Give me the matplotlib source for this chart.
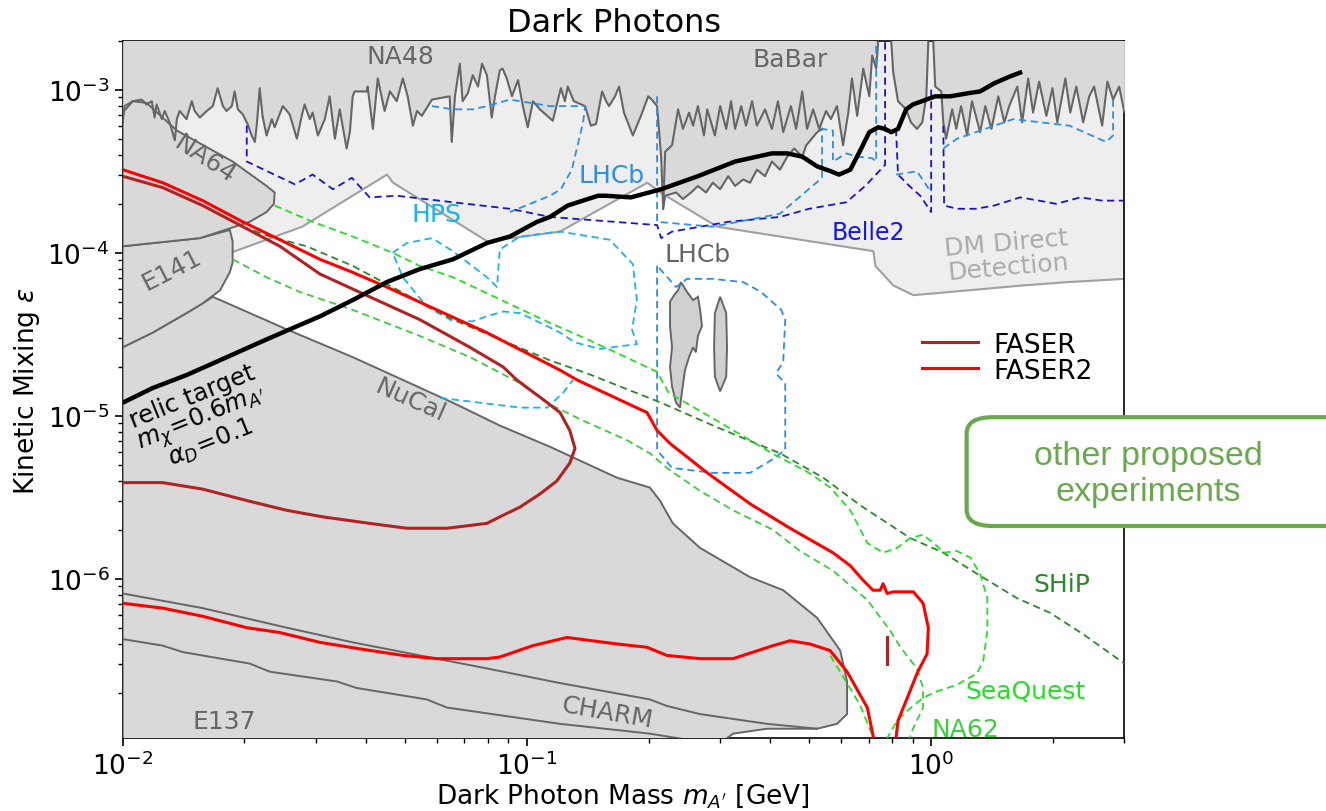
import numpy as np
import matplotlib.pyplot as plt
from matplotlib.lines import Line2D
from matplotlib.patches import FancyBboxPatch

light_edge = [(-2.000, -4.10), (-1.809, -4.05), (-1.722, -3.99), (-1.556, -3.84), (-1.346, -3.52),
              (-1.331, -3.57), (-1.098, -3.93), (-0.918, -3.87), (-0.861, -3.79), (-0.702, -3.57),
              (-0.670, -3.63), (-0.529, -3.84), (-0.143, -3.99), (-0.138, -4.08), (-0.094, -4.20),
              (-0.044, -4.26), (0.048, -4.24), (0.228, -4.20), (0.337, -4.18), (0.478, -4.16)]

babar_edge = [(-2.000, -3.20), (-1.995, -3.10), (-1.975, -3.07), (-1.953, -3.06), (-1.941, -3.09),
              (-1.928, -3.07), (-1.921, -3.17), (-1.916, -3.09), (-1.903, -3.18), (-1.896, -3.13),
              (-1.884, -3.20), (-1.871, -3.31), (-1.866, -3.18), (-1.859, -3.13), (-1.842, -3.18),
              (-1.829, -3.07), (-1.822, -3.13), (-1.809, -3.17), (-1.792, -3.13), (-1.777, -3.10),
              (-1.765, -2.99), (-1.752, -3.10), (-1.743, -3.13), (-1.730, -3.10), (-1.723, -3.01),
              (-1.715, -3.12), (-1.703, -3.15), (-1.691, -3.21), (-1.681, -3.28), (-1.673, -3.32),
              (-1.668, -3.21), (-1.661, -2.99), (-1.654, -3.16), (-1.644, -3.28), (-1.631, -3.18),
              (-1.624, -3.23), (-1.604, -3.10), (-1.587, -3.15), (-1.569, -3.30), (-1.557, -3.16),
              (-1.550, -3.09), (-1.537, -3.18), (-1.530, -3.14), (-1.517, -3.28), (-1.500, -3.18),
              (-1.488, -3.04), (-1.475, -3.30), (-1.463, -3.12), (-1.446, -3.36), (-1.438, -3.26),
              (-1.431, -3.04), (-1.426, -3.01), (-1.396, -3.01), (-1.394, -2.98), (-1.381, -3.24),
              (-1.369, -2.93), (-1.352, -3.13), (-1.339, -3.01), (-1.322, -3.07), (-1.307, -2.93),
              (-1.295, -3.04), (-1.282, -3.22), (-1.272, -3.13), (-1.260, -3.16), (-1.235, -3.06),
              (-1.191, -3.04), (-1.186, -3.32), (-1.178, -3.04), (-1.166, -2.84), (-1.159, -3.07),
              (-1.146, -3.02), (-1.134, -2.91), (-1.121, -2.98), (-1.111, -2.84), (-1.099, -2.91),
              (-1.087, -3.17), (-1.079, -3.04), (-1.067, -2.88), (-1.060, -2.87), (-1.050, -2.93),
              (-1.037, -3.04), (-1.022, -2.94), (-1.010, -3.10), (-0.998, -3.23), (-0.985, -3.07),
              (-0.968, -3.12), (-0.936, -3.19), (-0.916, -2.99), (-0.906, -3.07), (-0.899, -2.98),
              (-0.884, -3.07), (-0.856, -3.10), (-0.842, -3.22), (-0.829, -3.21), (-0.814, -3.01),
              (-0.804, -3.07), (-0.797, -3.10), (-0.782, -3.04), (-0.772, -2.98), (-0.760, -3.14),
              (-0.738, -3.28), (-0.718, -3.16), (-0.700, -3.04), (-0.691, -3.06), (-0.678, -3.10),
              (-0.668, -3.41), (-0.663, -3.73), (-0.658, -3.38), (-0.641, -3.34), (-0.626, -3.12),
              (-0.614, -3.24), (-0.599, -3.14), (-0.589, -3.22), (-0.577, -3.10), (-0.562, -3.28),
              (-0.554, -3.12), (-0.535, -3.28), (-0.522, -3.10), (-0.507, -3.24), (-0.495, -3.07),
              (-0.485, -3.24), (-0.470, -3.10), (-0.458, -3.22), (-0.443, -3.07), (-0.431, -3.22),
              (-0.411, -3.12), (-0.394, -3.24), (-0.379, -3.07), (-0.366, -3.26), (-0.347, -3.10),
              (-0.334, -3.24), (-0.319, -3.01), (-0.307, -3.24), (-0.292, -3.12), (-0.277, -3.24),
              (-0.260, -3.13), (-0.248, -3.18), (-0.233, -3.10), (-0.218, -3.34), (-0.205, -3.14),
              (-0.196, -2.93), (-0.183, -3.16), (-0.168, -2.87), (-0.153, -3.04), (-0.146, -2.79),
              (-0.136, -2.87), (-0.131, -2.70), (-0.129, -2.69), (-0.099, -2.69), (-0.094, -2.89),
              (-0.082, -3.07), (-0.062, -3.12), (-0.050, -3.20), (-0.035, -3.24), (-0.022, -3.20),
              (-0.012, -3.04), (-0.007, -2.70), (-0.002, -2.69), (0.005, -2.69), (0.010, -2.98),
              (0.025, -3.01), (0.030, -3.20), (0.037, -3.30), (0.052, -3.12), (0.062, -3.24),
              (0.074, -3.10), (0.089, -3.28), (0.101, -3.07), (0.121, -3.26), (0.134, -3.10),
              (0.149, -3.24), (0.166, -3.04), (0.181, -3.20), (0.193, -3.10), (0.213, -2.98),
              (0.225, -3.20), (0.240, -2.93), (0.252, -3.14), (0.267, -2.95), (0.285, -3.16),
              (0.300, -2.99), (0.312, -3.20), (0.332, -2.93), (0.344, -3.14), (0.359, -2.98),
              (0.376, -3.20), (0.391, -3.04), (0.403, -2.98), (0.423, -3.22), (0.436, -2.95),
              (0.450, -3.06), (0.465, -2.98), (0.478, -3.14)]

lhcb_prompt = [(-0.663, -3.73), (-0.658, -3.65), (-0.631, -3.63), (-0.614, -3.67), (-0.594, -3.63),
               (-0.577, -3.59), (-0.557, -3.63), (-0.540, -3.57), (-0.522, -3.61), (-0.502, -3.53),
               (-0.485, -3.59), (-0.465, -3.55), (-0.448, -3.57), (-0.431, -3.49), (-0.411, -3.53),
               (-0.394, -3.44), (-0.374, -3.49), (-0.356, -3.41), (-0.339, -3.36), (-0.319, -3.41),
               (-0.309, -3.34), (-0.282, -3.26), (-0.270, -3.24)]

na64 = [(-2.000, -3.14), (-1.975, -3.07), (-1.941, -3.08), (-1.866, -3.25), (-1.728, -3.44),
        (-1.644, -3.59), (-1.624, -3.63), (-1.626, -3.70), (-1.644, -3.75), (-1.686, -3.81),
        (-1.759, -3.87), (-1.809, -3.91), (-2.000, -3.96)]

e141 = [(-2.000, -3.96), (-1.809, -3.91), (-1.735, -3.86), (-1.728, -3.93), (-1.728, -4.06),
        (-1.735, -4.12), (-1.759, -4.23), (-1.802, -4.31), (-1.842, -4.37), (-1.884, -4.43),
        (-1.926, -4.49), (-2.000, -4.58)]

nucal = [(-2.000, -7.10), (-2.000, -4.58), (-1.926, -4.49), (-1.884, -4.43), (-1.842, -4.37),
         (-1.802, -4.31), (-1.777, -4.27), (-1.594, -4.47), (-1.431, -4.64), (-1.183, -4.92),
         (-1.067, -5.06), (-0.943, -5.19), (-0.777, -5.38), (-0.696, -5.44), (-0.671, -5.52),
         (-0.639, -5.66), (-0.572, -5.81), (-0.448, -5.99), (-0.366, -6.07), (-0.282, -6.24),
         (-0.225, -6.44), (-0.208, -6.63), (-0.208, -6.83), (-0.233, -6.89), (-0.282, -6.92),
         (-0.406, -6.92), (-0.490, -6.95), (-0.572, -7.10)]

charm_top = [(-2.000, -6.09), (-1.802, -6.18), (-1.594, -6.30), (-1.431, -6.39), (-1.265, -6.47),
             (-1.099, -6.55), (-0.918, -6.64), (-0.696, -6.74), (-0.654, -6.78), (-0.572, -6.83),
             (-0.406, -6.89), (-0.282, -6.92)]

charm_bottom = [(-2.000, -6.37), (-1.901, -6.41), (-1.851, -6.45), (-1.686, -6.52), (-1.636, -6.57),
                (-1.470, -6.63), (-1.421, -6.67), (-1.248, -6.74), (-1.198, -6.79), (-0.918, -6.89),
                (-0.696, -6.95), (-0.572, -7.00)]

lhcb_island1 = [(-0.619, -4.18), (-0.604, -4.24), (-0.589, -4.29), (-0.577, -4.27), (-0.572, -4.34),
                (-0.567, -4.45), (-0.577, -4.51), (-0.582, -4.61), (-0.589, -4.58), (-0.599, -4.64),
                (-0.609, -4.72), (-0.619, -4.90), (-0.621, -4.95), (-0.631, -4.92), (-0.641, -4.82),
                (-0.646, -4.70), (-0.641, -4.58), (-0.646, -4.45), (-0.646, -4.30), (-0.636, -4.26),
                (-0.626, -4.23)]

lhcb_island2 = [(-0.522, -4.27), (-0.507, -4.37), (-0.505, -4.58), (-0.507, -4.76), (-0.522, -4.85),
                (-0.535, -4.76), (-0.537, -4.58), (-0.535, -4.37)]

relic = [(-2.000, -4.92), (-1.926, -4.83), (-1.842, -4.75), (-1.760, -4.66), (-1.661, -4.55),
         (-1.587, -4.47), (-1.512, -4.39), (-1.431, -4.29), (-1.347, -4.18), (-1.265, -4.10),
         (-1.183, -4.04), (-1.099, -3.94), (-1.042, -3.90), (-0.975, -3.81), (-0.943, -3.78),
         (-0.899, -3.71), (-0.824, -3.65), (-0.804, -3.65), (-0.743, -3.66), (-0.668, -3.61),
         (-0.577, -3.53), (-0.485, -3.44), (-0.394, -3.39), (-0.356, -3.39), (-0.319, -3.41),
         (-0.282, -3.47), (-0.248, -3.50), (-0.228, -3.52), (-0.200, -3.49), (-0.173, -3.36),
         (-0.153, -3.26), (-0.131, -3.23), (-0.114, -3.24), (-0.099, -3.26), (-0.082, -3.24),
         (-0.062, -3.12), (-0.045, -3.09), (0.010, -3.04), (0.047, -3.04), (0.094, -3.02),
         (0.121, -3.01), (0.156, -2.96), (0.193, -2.92), (0.225, -2.89)]

faser = [(-2.000, -3.53), (-1.901, -3.60), (-1.802, -3.71), (-1.710, -3.83), (-1.611, -3.96),
         (-1.512, -4.13), (-1.389, -4.27), (-1.265, -4.41), (-1.141, -4.58), (-1.059, -4.70),
         (-1.025, -4.78), (-0.960, -4.90), (-0.918, -4.98), (-0.894, -5.09), (-0.881, -5.20),
         (-0.894, -5.29), (-0.926, -5.40), (-0.968, -5.48), (-1.017, -5.56), (-1.067, -5.62),
         (-1.099, -5.66), (-1.198, -5.69), (-1.297, -5.69), (-1.389, -5.66), (-1.505, -5.62),
         (-1.594, -5.58), (-1.693, -5.52), (-1.802, -5.45), (-1.901, -5.41), (-2.000, -5.41)]

faser_spot = [(-0.109, -6.36), (-0.109, -6.52)]

faser2 = [(-2.000, -3.49), (-1.901, -3.57), (-1.802, -3.68), (-1.703, -3.81), (-1.611, -3.92),
          (-1.512, -4.04), (-1.431, -4.12), (-1.347, -4.21), (-1.223, -4.35), (-1.099, -4.49),
          (-0.918, -4.72), (-0.876, -4.78), (-0.703, -4.98), (-0.678, -5.09), (-0.646, -5.17),
          (-0.554, -5.35), (-0.448, -5.54), (-0.349, -5.69), (-0.243, -5.84), (-0.200, -5.92),
          (-0.168, -6.01), (-0.144, -6.07), (-0.126, -6.07), (-0.119, -6.03), (-0.109, -6.09),
          (-0.094, -6.08), (-0.044, -6.08), (-0.020, -6.15), (-0.007, -6.30), (-0.010, -6.46),
          (-0.035, -6.58), (-0.059, -6.73), (-0.082, -6.87), (-0.089, -7.02),
          (-0.139, -7.02), (-0.158, -6.79), (-0.208, -6.57), (-0.250, -6.44), (-0.300, -6.40),
          (-0.349, -6.38), (-0.391, -6.41), (-0.490, -6.49), (-0.572, -6.49), (-0.654, -6.47),
          (-0.703, -6.42), (-0.777, -6.40), (-0.901, -6.36), (-0.985, -6.41), (-1.067, -6.48),
          (-1.099, -6.49), (-1.223, -6.49), (-1.307, -6.47), (-1.413, -6.43), (-1.512, -6.39),
          (-1.611, -6.33), (-1.693, -6.30), (-1.802, -6.23), (-1.901, -6.18), (-2.000, -6.15)]

ship = [(-1.703, -3.84), (-1.636, -3.90), (-1.545, -3.96), (-1.431, -4.08), (-1.183, -4.41),
        (-0.943, -4.66), (-0.851, -4.74), (-0.668, -4.92), (-0.530, -5.07), (-0.374, -5.23),
        (-0.267, -5.38), (-0.175, -5.55), (-0.052, -5.75), (0.030, -5.84), (0.114, -5.97),
        (0.213, -6.12), (0.295, -6.21), (0.376, -6.34), (0.478, -6.52)]

seaquest = [(-1.624, -3.71), (-1.530, -3.81), (-1.431, -3.90), (-1.332, -4.00), (-1.265, -4.08),
            (-1.183, -4.15), (-0.943, -4.43), (-0.851, -4.53), (-0.678, -4.73), (-0.649, -4.86),
            (-0.530, -5.03), (-0.394, -5.23), (-0.302, -5.35), (-0.250, -5.44), (-0.200, -5.58),
            (-0.158, -5.78), (-0.119, -5.84), (-0.084, -5.81), (-0.052, -5.75), (-0.020, -5.73),
            (0.015, -5.80), (0.030, -5.84), (0.064, -5.83), (0.097, -5.87), (0.121, -5.97),
            (0.139, -6.12), (0.139, -6.32), (0.129, -6.50), (0.114, -6.58), (0.064, -6.65),
            (0.015, -6.69), (-0.020, -6.73), (-0.059, -6.81), (-0.084, -6.87), (-0.114, -7.00)]

seaquest_low = [(-0.250, -6.47), (-0.208, -6.64), (-0.175, -6.78), (-0.139, -7.00)]

na62 = [(-1.728, -4.04), (-1.644, -4.15), (-1.562, -4.24), (-1.431, -4.35), (-1.265, -4.51),
        (-1.141, -4.64), (-1.017, -4.80), (-0.943, -4.93), (-0.861, -5.03), (-0.752, -5.15),
        (-0.696, -5.23), (-0.654, -5.32), (-0.572, -5.46), (-0.490, -5.58), (-0.391, -5.70),
        (-0.324, -5.83), (-0.243, -5.95), (-0.158, -6.13), (-0.101, -6.32), (-0.076, -6.42),
        (-0.035, -6.55), (-0.020, -6.67), (-0.020, -6.79), (-0.045, -6.92), (-0.057, -7.00)]

belle2_low = [(-1.693, -3.22), (-1.693, -3.44), (-1.574, -3.58), (-1.530, -3.52), (-1.480, -3.61),
              (-1.433, -3.54), (-1.389, -3.66), (-1.322, -3.65), (-1.183, -3.69), (-1.042, -3.73),
              (-0.943, -3.78), (-0.678, -3.83), (-0.668, -3.91), (-0.641, -3.87), (-0.502, -3.81),
              (-0.374, -3.78), (-0.302, -3.73), (-0.210, -3.69), (-0.163, -3.59), (-0.114, -3.46),
              (-0.114, -2.69)]
belle2_mid = [(-0.087, -3.24), (-0.082, -3.52), (-0.054, -3.59), (-0.027, -3.65), (0.000, -3.75),
              (0.000, -2.98)]
belle2_high = [(0.030, -3.22), (0.032, -3.71), (0.064, -3.73), (0.111, -3.73), (0.156, -3.71),
               (0.220, -3.66), (0.267, -3.68), (0.309, -3.70), (0.369, -3.66), (0.423, -3.68),
               (0.478, -3.68)]

lhcb_a = [(-1.235, -3.10), (-1.183, -3.12), (-1.134, -3.12), (-1.099, -3.10), (-1.042, -3.06),
          (-1.017, -3.07), (-0.943, -3.10), (-0.856, -3.10), (-0.861, -3.20), (-0.889, -3.49),
          (-0.916, -3.61), (-0.943, -3.65), (-1.042, -3.75)]
lhcb_b = [(-0.678, -3.04), (-0.678, -3.81), (-0.540, -3.84), (-0.374, -3.76), (-0.270, -3.54),
          (-0.270, -3.24), (-0.243, -3.25), (-0.243, -3.44), (-0.210, -3.39), (-0.183, -3.41),
          (-0.146, -3.42), (-0.136, -3.44), (-0.136, -2.70)]
lhcb_c = [(-0.087, -3.52), (-0.035, -3.50), (0.000, -3.63)]
lhcb_d = [(0.030, -3.36), (0.064, -3.30), (0.203, -3.18), (0.342, -3.22), (0.433, -3.32),
          (0.450, -3.28), (0.450, -3.06)]
lhcb_displaced = [(-0.678, -4.08), (-0.678, -5.21), (-0.641, -5.32), (-0.540, -5.35), (-0.448, -5.35),
                  (-0.394, -5.27), (-0.361, -5.21), (-0.361, -4.80), (-0.384, -4.74), (-0.366, -4.67),
                  (-0.361, -4.41), (-0.371, -4.35), (-0.421, -4.24), (-0.465, -4.18), (-0.540, -4.16),
                  (-0.604, -4.16), (-0.631, -4.21), (-0.649, -4.16), (-0.678, -4.08)]

hps = [(-1.332, -4.00), (-1.297, -3.94), (-1.235, -3.91), (-1.183, -3.99), (-1.099, -4.15),
       (-1.074, -4.21), (-1.067, -3.98), (-1.017, -3.90), (-0.918, -3.87), (-0.795, -3.92),
       (-0.738, -4.07), (-0.728, -4.29), (-0.740, -4.47), (-0.728, -4.56), (-0.819, -4.59),
       (-0.881, -4.55), (-0.918, -4.49), (-0.950, -4.45), (-1.017, -4.37), (-1.059, -4.36),
       (-1.099, -4.39), (-1.134, -4.42), (-1.183, -4.42), (-1.248, -4.33), (-1.307, -4.15),
       (-1.332, -4.00)]
hps_low = [(-1.215, -4.89), (-1.116, -4.92), (-1.017, -4.95), (-0.950, -4.95), (-0.911, -4.86),
           (-0.886, -4.78)]


def curve(pts):
    a = np.asarray(pts, dtype=float)
    return 10 ** a[:, 0], 10 ** a[:, 1]


dark = '#d9d9d9'
light = '#eeeeee'
edge = '#666666'

fig = plt.figure(figsize=(13.26, 8.12), dpi=100)
ax = fig.add_axes([0.0925, 0.0895, 0.7552, 0.8591])
ax.set_xscale('log')
ax.set_yscale('log')

# existing constraints
m, e = curve(light_edge)
ax.fill_between(m, e, 1, color=light, lw=0, zorder=1)
ax.plot(m, e, color='#a0a0a0', lw=1.5, zorder=2)

m, e = curve(babar_edge)
ax.fill_between(m, e, 1, color=dark, lw=0, zorder=3)
ax.plot(m, e, color=edge, lw=1.5, zorder=4)

m, e = curve(lhcb_prompt)
ax.fill_between(m, e, 1, color=dark, lw=0, zorder=3)
ax.plot(m, e, color=edge, lw=1.5, zorder=4)

for shape in (nucal, e141, na64):
    m, e = curve(shape)
    ax.fill(m, e, facecolor=dark, edgecolor=edge, lw=1.4, zorder=3)

for line in (charm_top, charm_bottom):
    m, e = curve(line)
    ax.plot(m, e, color=edge, lw=1.4, zorder=4)

for shape in (lhcb_island1, lhcb_island2):
    m, e = curve(shape)
    ax.fill(m, e, facecolor='#d0d0d0', edgecolor=edge, lw=1.4, zorder=5)

# projected sensitivities of other experiments
dashed = dict(ls=(0, (4, 2.5)), lw=1.3, zorder=6)
for line in (belle2_low, belle2_mid, belle2_high):
    ax.plot(*curve(line), color='#1515d0', **dashed)
for line in (lhcb_a, lhcb_b, lhcb_c, lhcb_d, lhcb_displaced):
    ax.plot(*curve(line), color='#2a8fe6', **dashed)
for line in (hps, hps_low):
    ax.plot(*curve(line), color='#1ab4ea', **dashed)
ax.plot(*curve(ship), color='#2a8a2a', **dashed)
ax.plot(*curve(seaquest), color='#22e022', **dashed)
ax.plot(*curve(seaquest_low), color='#22e022', **dashed)
ax.plot(*curve(na62), color='#3ccc3c', **dashed)

# FASER reach
ax.plot(*curve(faser), color='firebrick', lw=2.2, zorder=7)
ax.plot(*curve(faser_spot), color='firebrick', lw=2.2, zorder=7)
ax.plot(*curve(faser2), color='red', lw=2.2, zorder=7)

ax.plot(*curve(relic), color='black', lw=3.2, zorder=8, solid_capstyle='butt')

ax.set_xlim(1e-2, 3)
ax.set_ylim(1.05e-7, 2e-3)

# labels inside the plot
lab = dict(fontsize=18, ha='center', va='center', zorder=9)
ax.text(10**-1.314, 10**-2.79, 'NA48', color=edge, **lab)
ax.text(10**-0.349, 10**-2.81, 'BaBar', color=edge, **lab)
ax.text(10**-1.797, 10**-3.42, 'NA64', color=edge, rotation=-33, **lab)
ax.text(10**-1.879, 10**-4.10, 'E141', color=edge, rotation=27, **lab)
ax.text(10**-1.289, 10**-4.90, 'NuCal', color=edge, rotation=-24, **lab)
ax.text(10**-0.802, 10**-6.82, 'CHARM', color=edge, rotation=-10, **lab)
ax.text(10**-1.748, 10**-6.87, 'E137', color=edge, **lab)
ax.text(10**-0.577, 10**-4.01, 'LHCb', color=edge, **lab)
ax.text(10**-0.790, 10**-3.52, 'LHCb', color='#2a8fe6', **lab)
ax.text(10**-1.223, 10**-3.76, 'HPS', color='#1ab4ea', **lab)
ax.text(10**-0.156, 10**-3.87, 'Belle2', color='#1515f0', fontsize=17,
        ha='center', va='center', zorder=9)
ax.text(10**0.188, 10**-4.01, 'DM Direct\nDetection', color='#aaaaaa', rotation=5,
        linespacing=1.0, **lab)
ax.text(10**0.324, 10**-6.03, 'SHiP', color='#2a8a2a', **lab)
ax.text(10**0.233, 10**-6.69, 'SeaQuest', color='#22e022', **lab)
ax.text(10**0.084, 10**-6.92, 'NA62', color='#3ccc3c', **lab)
ax.text(10**-1.805, 10**-5.02, 'relic target\n$m_\\chi\\!=\\!0.6m_{A^\\prime}$\n$\\alpha_D\\!=\\!0.1$',
        color='black', fontsize=17.5, rotation=22, ha='center', va='center',
        linespacing=0.85, zorder=9)

handles = [Line2D([], [], color='firebrick', lw=2.2),
           Line2D([], [], color='red', lw=2.2)]
ax.legend(handles, ['FASER', 'FASER2'], loc='upper left', bbox_to_anchor=(0.775, 0.617),
          frameon=False, fontsize=19, handlelength=2.1, handletextpad=0.6, labelspacing=0.0)

ax.set_title('Dark Photons', fontsize=23, pad=7, x=0.491)
ax.set_xlabel("Dark Photon Mass $m_{A'}$ [GeV]", fontsize=19, labelpad=1)
ax.set_ylabel('Kinetic Mixing $\\epsilon$', fontsize=19)
ax.tick_params(which='major', labelsize=19, length=6, width=1.2)
ax.tick_params(which='minor', length=3.5, width=1.0)
for sp in ax.spines.values():
    sp.set_linewidth(1.2)

# note box on the right
box = FancyBboxPatch((0.729, 0.351), 0.29, 0.134, transform=fig.transFigure,
                     boxstyle='round,pad=0,rounding_size=0.02', facecolor='white',
                     edgecolor='#6aa84f', lw=3, zorder=20, clip_on=False)
fig.patches.append(box)
fig.text(0.866, 0.416, 'other proposed\nexperiments', color='#6aa84f', fontsize=24.5,
         family=['Liberation Sans', 'DejaVu Sans'], ha='center', va='center',
         linespacing=1.2, zorder=21)

fig.savefig('out.png', dpi=100)
